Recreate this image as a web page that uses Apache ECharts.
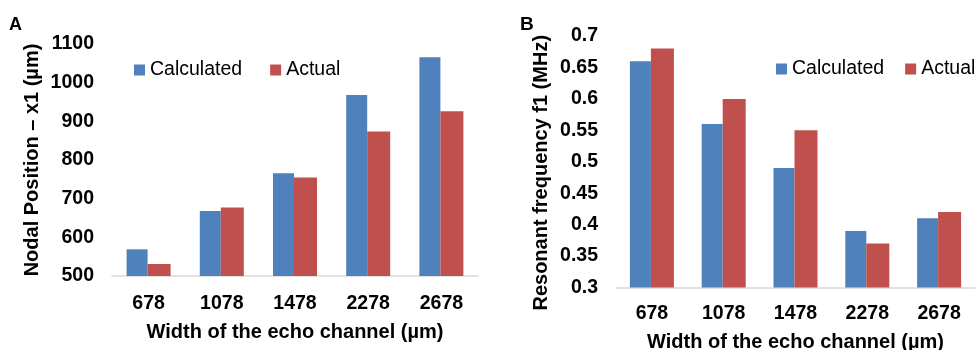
<!DOCTYPE html>
<html><head><meta charset="utf-8">
<script src="https://cdn.jsdelivr.net/npm/echarts@6/dist/echarts.min.js"></script>
<style>html,body{margin:0;padding:0;background:#fff}#c{width:977px;height:350px}</style>
</head><body><div id="c"></div>
<script>
const categories = ['678', '1078', '1478', '2278', '2678'];
const seriesNames = ['Calculated', 'Actual'];
const nodalCalculated = [569, 668, 766, 968, 1066];
const nodalActual = [531, 677, 755, 874, 926];
const freqCalculated = [0.66, 0.56, 0.49, 0.39, 0.41];
const freqActual = [0.68, 0.60, 0.55, 0.37, 0.42];
const nodalAxis = { min: 500, max: 1100, interval: 100 };
const freqAxis = { min: 0.3, max: 0.7, interval: 0.05 };
const xTitle = 'Width of the echo channel (µm)';
const yTitleA = 'Nodal Position – x1 (µm)';
const yTitleB = 'Resonant frequency f1 (MHz)';

const FONT = '"Liberation Sans", Arial, sans-serif';
const BLUE = '#4F81BD', RED = '#C0504D';
const TICK_FS = 19.5;

const chart = echarts.init(document.getElementById('c'), null, { renderer: 'canvas' });

function xAxisFor(gi, margin, gap) {
  return {
    type: 'category', gridIndex: gi, data: categories,
    axisTick: { show: false },
    axisLine: { lineStyle: { color: '#d9d9d9', width: 1.5 } },
    axisLabel: { margin: margin, fontSize: TICK_FS, fontWeight: 'bold', color: '#000', fontFamily: FONT },
    name: xTitle, nameLocation: 'middle', nameGap: gap,
    nameTextStyle: { fontSize: 20, fontWeight: 'bold', color: '#000', fontFamily: FONT }
  };
}
function yAxisFor(gi, cfg, title, gap, pad) {
  return {
    type: 'value', gridIndex: gi, min: cfg.min, max: cfg.max, interval: cfg.interval,
    splitLine: { show: false }, axisLine: { show: false }, axisTick: { show: false },
    axisLabel: { margin: 18, fontSize: TICK_FS, fontWeight: 'bold', color: '#000', fontFamily: FONT,
      formatter: function (v) { return String(+v.toFixed(2)); } },
    name: title, nameLocation: 'middle', nameRotate: 90, nameGap: gap,
    nameTextStyle: { fontSize: 20, fontWeight: 'bold', color: '#000', fontFamily: FONT, padding: pad }
  };
}
function bar(name, xi, data, color, w) {
  return { name: name, type: 'bar', xAxisIndex: xi, yAxisIndex: xi, data: data,
    barWidth: w, barGap: '0%', itemStyle: { color: color }, animation: false };
}

chart.setOption({
  animation: false,
  textStyle: { fontFamily: FONT },
  title: [
    { text: 'A', left: 9, top: 16, padding: 0, textStyle: { fontSize: 18, fontWeight: 'bold', color: '#000', fontFamily: FONT } },
    { text: 'B', left: 520, top: 15, padding: 0, textStyle: { fontSize: 19, fontWeight: 'bold', color: '#000', fontFamily: FONT } }
  ],
  legend: [
    { left: 134, top: 60, itemWidth: 11, itemHeight: 11, itemGap: 28, icon: 'rect', data: seriesNames,
      textStyle: { fontSize: 19.5, color: '#000', fontFamily: FONT }, padding: 0 },
    { left: 776, top: 59, itemWidth: 11, itemHeight: 11, itemGap: 21, icon: 'rect', data: seriesNames,
      textStyle: { fontSize: 19.5, color: '#000', fontFamily: FONT }, padding: 0 }
  ],
  grid: [
    { left: 112, top: 44, width: 366, height: 232, outerBoundsMode: 'none', containLabel: false },
    { left: 616, top: 36, width: 359, height: 251.5, outerBoundsMode: 'none', containLabel: false }
  ],
  xAxis: [xAxisFor(0, 18, 46), xAxisFor(1, 16, 45)],
  yAxis: [yAxisFor(0, nodalAxis, yTitleA, 70, 0), yAxisFor(1, freqAxis, yTitleB, 65, [0, 22, 0, 0])],
  series: [
    bar(seriesNames[0], 0, nodalCalculated, BLUE, 21),
    bar(seriesNames[1], 0, nodalActual, RED, 23),
    bar(seriesNames[0], 1, freqCalculated, BLUE, 21),
    bar(seriesNames[1], 1, freqActual, RED, 23)
  ]
});
</script></body></html>
